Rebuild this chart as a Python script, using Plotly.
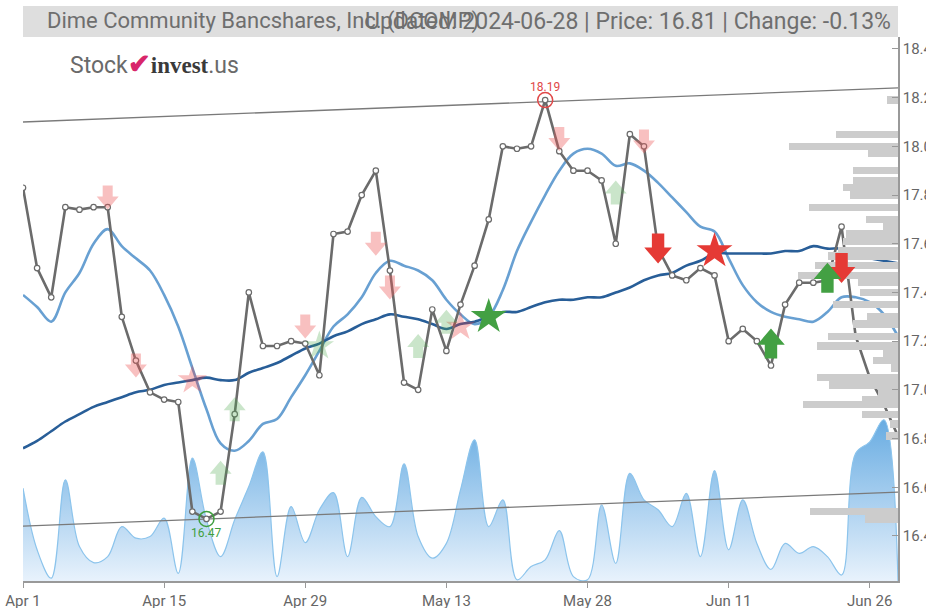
import plotly.graph_objects as go

# ---------------- data ----------------
dates = [
    "2024-04-01","2024-04-02","2024-04-03","2024-04-04","2024-04-05","2024-04-08","2024-04-09","2024-04-10","2024-04-11","2024-04-12",
    "2024-04-15","2024-04-16","2024-04-17","2024-04-18","2024-04-19","2024-04-22","2024-04-23","2024-04-24","2024-04-25","2024-04-26",
    "2024-04-29","2024-04-30","2024-05-01","2024-05-02","2024-05-03","2024-05-06","2024-05-07","2024-05-08","2024-05-09","2024-05-10",
    "2024-05-13","2024-05-14","2024-05-15","2024-05-16","2024-05-17","2024-05-20","2024-05-21","2024-05-22","2024-05-23","2024-05-24",
    "2024-05-28","2024-05-29","2024-05-30","2024-05-31","2024-06-03","2024-06-04","2024-06-05","2024-06-06","2024-06-07","2024-06-10",
    "2024-06-11","2024-06-12","2024-06-13","2024-06-14","2024-06-17","2024-06-18","2024-06-20","2024-06-21","2024-06-24","2024-06-25",
    "2024-06-26","2024-06-27","2024-06-28",
]
price = [
    17.83, 17.50, 17.38, 17.75, 17.74, 17.75, 17.75, 17.30, 17.12, 16.99,
    16.96, 16.95, 16.50, 16.47, 16.50, 16.90, 17.40, 17.18, 17.18, 17.20,
    17.19, 17.06, 17.64, 17.65, 17.80, 17.90, 17.49, 17.03, 17.00, 17.33,
    17.16, 17.35, 17.51, 17.70, 18.00, 17.99, 18.00, 18.19, 17.98, 17.90,
    17.90, 17.86, 17.60, 18.05, 18.00, 17.58, 17.47, 17.45, 17.50, 17.47,
    17.20, 17.25, 17.20, 17.10, 17.35, 17.44, 17.44, 17.45, 17.67, 17.22,
    17.05, 16.94, 16.81,
]
ma_short = [
    17.39, 17.34, 17.28, 17.40, 17.48, 17.60, 17.66, 17.59, 17.54, 17.49,
    17.39, 17.26, 17.09, 16.92, 16.78, 16.75, 16.79, 16.86, 16.88, 16.97,
    17.06, 17.16, 17.26, 17.31, 17.38, 17.48, 17.53, 17.51, 17.49, 17.45,
    17.37, 17.31, 17.27, 17.30, 17.41, 17.57, 17.69, 17.80, 17.90, 17.97,
    17.99, 17.97, 17.92, 17.93, 17.90, 17.85, 17.79, 17.73, 17.67, 17.65,
    17.54, 17.43, 17.36, 17.32, 17.30, 17.29, 17.28, 17.32, 17.38, 17.38,
    17.36, 17.31, 17.22,
]
ma_long = [
    16.76, 16.79, 16.83, 16.87, 16.90, 16.93, 16.95, 16.97, 16.99, 17.00,
    17.02, 17.03, 17.04, 17.05, 17.04, 17.04, 17.07, 17.09, 17.11, 17.14,
    17.17, 17.19, 17.22, 17.24, 17.27, 17.29, 17.31, 17.30, 17.29, 17.27,
    17.25, 17.27, 17.28, 17.30, 17.32, 17.32, 17.34, 17.36, 17.37, 17.37,
    17.38, 17.38, 17.40, 17.42, 17.45, 17.47, 17.48, 17.51, 17.53, 17.56,
    17.56, 17.56, 17.56, 17.56, 17.57, 17.57, 17.59, 17.58, 17.58, 17.56,
    17.54, 17.53, 17.52,
]
volume = [
    23200, 7800, 700, 25300, 8600, 4600, 6100, 13600, 10700, 11100,
    15700, 1900, 30700, 15300, 6100, 15300, 23600, 32300, 1100, 18600,
    9600, 17800, 22100, 6100, 20900, 16100, 13600, 29300, 11100, 5700,
    9400, 22800, 35300, 13600, 20300, 300, 3600, 5300, 12600, 1100,
    300, 19000, 4400, 26900, 20300, 17800, 13600, 21900, 6100, 27600,
    7800, 20300, 9400, 2900, 9400, 6900, 8600, 6100, 1500, 31900,
    34800, 40300, 0,
]
# volume-at-price profile
profile_price = [18.19, 18.05, 18.00, 17.97, 17.90, 17.86, 17.83, 17.80, 17.75, 17.70,
                 17.67, 17.64, 17.61, 17.57, 17.55, 17.51, 17.47, 17.44, 17.40, 17.35,
                 17.30, 17.27, 17.22, 17.18, 17.15, 17.12, 17.09, 17.05, 17.02, 16.99,
                 16.96, 16.94, 16.90, 16.86, 16.81, 16.50, 16.47]
profile_vol = [2750, 15500, 27250, 7500, 11250, 11250, 13750, 12000, 22250, 8000,
               3750, 13000, 13750, 15000, 17500, 20750, 25000, 10000, 9500, 16250,
               7750, 11250, 17500, 20250, 3750, 6250, 1750, 20250, 17250, 5000,
               9000, 23750, 9000, 2000, 3000, 22000, 8250]
# trend channel (start / end values)
trend_upper = [18.10, 18.24]
trend_lower = [16.44, 16.58]
# signals
sell_old_dates = ["2024-04-09", "2024-04-11", "2024-04-29", "2024-05-06", "2024-05-07", "2024-05-23", "2024-06-03"]
sell_old_vals = [17.79, 17.10, 17.26, 17.60, 17.42, 18.03, 18.02]
buy_old_dates = ["2024-04-19", "2024-04-22", "2024-05-09", "2024-05-13", "2024-05-30"]
buy_old_vals = [16.66, 16.92, 17.18, 17.28, 17.81]
sell_new_dates = ["2024-06-04", "2024-06-24"]
sell_new_vals = [17.58, 17.50]
buy_new_dates = ["2024-06-14", "2024-06-21"]
buy_new_vals = [17.19, 17.46]
cross_down_old_dates = ["2024-04-17", "2024-05-14"]
cross_down_old_vals = [17.04, 17.26]
cross_up_old_dates = ["2024-04-30"]
cross_up_old_vals = [17.18]
cross_up_new_dates = ["2024-05-16"]
cross_up_new_vals = [17.30]
cross_down_new_dates = ["2024-06-10"]
cross_down_new_vals = [17.57]
tick_dates = ["2024-04-01", "2024-04-15", "2024-04-29", "2024-05-13", "2024-05-28", "2024-06-11", "2024-06-26"]
tick_labels = ["Apr 1", "Apr 15", "Apr 29", "May 13", "May 28", "Jun 11", "Jun 26"]
title_left = "Dime Community Bancshares, Inc. (DCOMP)"
title_right = "Updated: 2024-06-28 | Price: 16.81 | Change: -0.13%"

# ---------------- figure ----------------
idx = list(range(len(dates)))
pos = {d: i for i, d in enumerate(dates)}
FONT = "Roboto, Liberation Sans, sans-serif"

fig = go.Figure()

# volume area (base subplot, drawn first)
fig.add_trace(go.Scatter(
    x=idx, y=volume, xaxis="x", yaxis="y", mode="lines",
    line=dict(color="rgb(140,196,236)", width=1.2, shape="spline", smoothing=1.0),
    fill="tozeroy",
    fillgradient=dict(type="vertical", start=0, stop=max(volume),
                      colorscale=[[0, "rgba(232,242,252,1)"], [1, "rgba(104,172,226,1)"]]),
    hoverinfo="skip", showlegend=False))

# volume profile
fig.add_trace(go.Bar(
    y=profile_price, x=profile_vol, orientation="h", xaxis="x2", yaxis="y2",
    width=0.03, marker=dict(color="#cccccc", line=dict(width=0)),
    hoverinfo="skip", showlegend=False))

# trend channel
for tl in (trend_upper, trend_lower):
    fig.add_trace(go.Scatter(x=[idx[0], idx[-1]], y=tl, xaxis="x", yaxis="y2", mode="lines",
                             line=dict(color="#7a7a7a", width=1.3), hoverinfo="skip", showlegend=False))

# moving averages
fig.add_trace(go.Scatter(x=idx, y=ma_short, xaxis="x", yaxis="y2", mode="lines",
                         line=dict(color="rgb(104,160,210)", width=2.6, shape="spline"),
                         hoverinfo="skip", showlegend=False))
fig.add_trace(go.Scatter(x=idx, y=ma_long, xaxis="x", yaxis="y2", mode="lines",
                         line=dict(color="rgb(40,94,152)", width=2.6, shape="spline"),
                         hoverinfo="skip", showlegend=False))

# price
fig.add_trace(go.Scatter(x=idx, y=price, xaxis="x", yaxis="y2", mode="lines+markers",
                         line=dict(color="#6b6b6b", width=2.6),
                         marker=dict(size=5.5, color="white", line=dict(color="#6b6b6b", width=1.2)),
                         hoverinfo="skip", showlegend=False))

# extreme markers
i_max = price.index(max(price))
i_min = price.index(min(price))
fig.add_trace(go.Scatter(x=[i_max], y=[price[i_max]], xaxis="x", yaxis="y2", mode="markers",
                         marker=dict(symbol="circle-open", size=15, color="#e04848", line=dict(width=1.5)),
                         hoverinfo="skip", showlegend=False))
fig.add_trace(go.Scatter(x=[i_min], y=[price[i_min]], xaxis="x", yaxis="y2", mode="markers",
                         marker=dict(symbol="circle-open", size=15, color="#3f9f3f", line=dict(width=1.5)),
                         hoverinfo="skip", showlegend=False))

# crossover stars
def stars(ds, vs, color, size):
    fig.add_trace(go.Scatter(x=[pos[d] for d in ds], y=vs, xaxis="x", yaxis="y2", mode="markers",
                             marker=dict(symbol="star", size=size, color=color, line=dict(width=0)),
                             hoverinfo="skip", showlegend=False))

stars(cross_down_old_dates, cross_down_old_vals, "rgba(232,60,60,0.32)", 22)
stars(cross_up_old_dates, cross_up_old_vals, "rgba(70,165,70,0.28)", 22)
stars(cross_up_new_dates, cross_up_new_vals, "#43a043", 27)
stars(cross_down_new_dates, cross_down_new_vals, "#e53a35", 27)

# arrows (pixel-sized shapes anchored to data points)
def arrow_path(scale, down):
    pts = [(-5, 12), (5, 12), (5, 1), (11, 1), (0, -12), (-11, 1), (-5, 1)]
    s = 1 if down else -1
    return "M" + " L".join(f"{px*scale:.1f},{py*scale*s:.1f}" for px, py in pts) + " Z"

shapes = []
def arrows(ds, vs, color, scale, down):
    for d, v in zip(ds, vs):
        shapes.append(dict(type="path", xref="x", yref="y2", xsizemode="pixel", ysizemode="pixel",
                           xanchor=pos[d], yanchor=v, path=arrow_path(scale, down),
                           fillcolor=color, line=dict(width=0), layer="above"))

arrows(sell_old_dates, sell_old_vals, "rgba(236,90,90,0.38)", 1.0, True)
arrows(buy_old_dates, buy_old_vals, "rgba(80,170,80,0.3)", 1.0, False)
arrows(sell_new_dates, sell_new_vals, "#e53a35", 1.25, True)
arrows(buy_new_dates, buy_new_vals, "#43a043", 1.25, False)

# title band
shapes.append(dict(type="rect", xref="paper", yref="paper", x0=0, x1=1, y0=1.0, y1=1.057,
                   fillcolor="#dedede", line=dict(width=0), layer="below"))
fig.update_layout(shapes=shapes)

annotations = [
    dict(text=title_left, xref="paper", yref="paper", x=0.025, y=1.0285, xanchor="left", yanchor="middle",
         showarrow=False, font=dict(family=FONT, size=22, color="#6e6e6e")),
    dict(text=title_right, xref="paper", yref="paper", x=0.9943, y=1.0285, xanchor="right", yanchor="middle",
         showarrow=False, font=dict(family=FONT, size=23, color="#6e6e6e")),
    dict(text='<span style="font-family:Roboto;color:#6a6a6a">Stock</span>'
              '<span style="color:#d8266a;font-size:27px"><b>\u2714</b></span>'
              '<b style="color:#3a3a3a">invest</b>'
              '<span style="font-family:Roboto;color:#6a6a6a">.us</span>',
         xref="paper", yref="paper", x=0.051, y=0.950, xanchor="left", yanchor="middle",
         showarrow=False, font=dict(family="Liberation Serif, DejaVu Serif, serif", size=23)),
    dict(text=f"{price[i_max]:.2f}", xref="x", yref="y2", x=i_max, y=price[i_max], yshift=13,
         showarrow=False, font=dict(family=FONT, size=12, color="#e04848")),
    dict(text=f"{price[i_min]:.2f}", xref="x", yref="y2", x=i_min, y=price[i_min], yshift=-14,
         showarrow=False, font=dict(family=FONT, size=12, color="#3f9f3f")),
]

fig.update_layout(
    width=926, height=608,
    margin=dict(l=23, r=28, t=37, b=27, autoexpand=False),
    paper_bgcolor="white", plot_bgcolor="white",
    showlegend=False, bargap=0,
    annotations=annotations,
    xaxis=dict(range=[0, len(dates) - 1], tickvals=[pos[d] for d in tick_dates], ticktext=tick_labels,
               ticks="outside", ticklen=5, tickcolor="#999", showline=True, linecolor="#999", linewidth=1.5,
               showgrid=False, zeroline=False, automargin=False,
               tickfont=dict(family=FONT, size=15, color="#666")),
    xaxis2=dict(overlaying="x", range=[218750, 0], visible=False),
    yaxis=dict(range=[0, 136000], visible=False, fixedrange=True),
    yaxis2=dict(overlaying="y", side="right", range=[16.215, 18.449], dtick=0.2, tick0=16.4, tickformat=".1f",
                ticks="inside", ticklen=6, tickcolor="#999", showline=True, linecolor="#999", linewidth=1.5,
                showgrid=False, zeroline=False, automargin=False,
                tickfont=dict(family=FONT, size=15, color="#666")),
)

fig.write_html("out.html", config={"displayModeBar": False},
               post_script="document.body.style.margin='0';document.body.style.overflow='hidden';")
